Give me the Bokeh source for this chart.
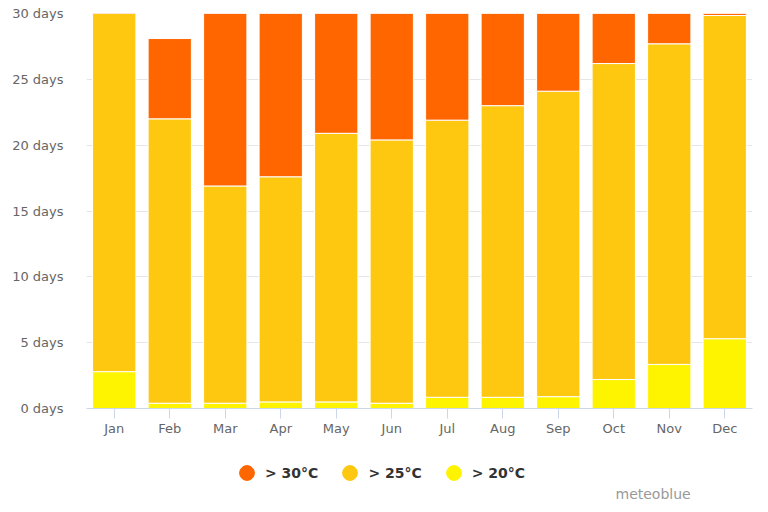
from bokeh.plotting import figure
from bokeh.layouts import column
from bokeh.models import ColumnDataSource, FactorRange, Legend, LegendItem, Label, CustomJSTickFormatter
from bokeh.embed import file_html
from bokeh.resources import INLINE

months = ["Jan", "Feb", "Mar", "Apr", "May", "Jun", "Jul", "Aug", "Sep", "Oct", "Nov", "Dec"]
days_over_20 = [2.8, 0.4, 0.4, 0.5, 0.5, 0.4, 0.85, 0.85, 0.9, 2.2, 3.35, 5.3]
days_over_25 = [28.2, 21.6, 16.5, 17.1, 20.4, 20.0, 21.05, 22.15, 23.2, 24.0, 24.35, 24.55]
days_over_30 = [0.0, 6.1, 14.1, 12.4, 10.1, 9.6, 9.1, 8.0, 5.9, 4.8, 2.3, 1.15]
series_names = ["> 30°C", "> 25°C", "> 20°C"]
colors = {"t30": "#ff6600", "t25": "#fdc80f", "t20": "#fff400"}
y_ticks = [0, 5, 10, 15, 20, 25, 30]

FONT = "DejaVu Sans"

source = ColumnDataSource(dict(month=months, t20=days_over_20, t25=days_over_25, t30=days_over_30))

p = figure(x_range=FactorRange(*months, range_padding=0), y_range=(0, 30),
           width=760, height=440, output_backend="svg", toolbar_location=None,
           min_border_left=86, min_border_right=8, min_border_top=13, min_border_bottom=32)
p.outline_line_color = None
p.background_fill_color = "white"
p.border_fill_color = "white"

p.vbar_stack(["t20", "t25", "t30"], x="month", width=0.78, source=source,
             color=[colors["t20"], colors["t25"], colors["t30"]],
             line_color="white", line_width=1)

# axes
p.yaxis.ticker = y_ticks
p.yaxis.formatter = CustomJSTickFormatter(code="return tick + ' days';")
p.yaxis.axis_line_color = None
p.yaxis.major_tick_line_color = None
p.yaxis.minor_tick_line_color = None
p.yaxis.major_label_standoff = 17
p.yaxis.major_label_text_font = FONT
p.yaxis.major_label_text_font_size = "13px"
p.yaxis.major_label_text_color = "#666666"

p.xaxis.axis_line_color = "#ccd6eb"
p.xaxis.major_tick_line_color = "#ccd6eb"
p.xaxis.major_tick_out = 10
p.xaxis.major_tick_in = 0
p.xaxis.major_label_standoff = 2
p.xaxis.major_label_text_font = FONT
p.xaxis.major_label_text_font_size = "13px"
p.xaxis.major_label_text_color = "#666666"

p.xgrid.grid_line_color = None
p.ygrid.grid_line_color = "#e6e6e6"
p.ygrid.ticker = y_ticks

# legend strip below the chart (its frame is aligned with the chart's frame: x 86..752)
lg = figure(width=760, height=64, x_range=(0, 1), y_range=(0, 1),
            output_backend="svg", toolbar_location=None,
            min_border_left=86, min_border_right=8, min_border_top=0, min_border_bottom=0)
lg.axis.visible = False
lg.grid.visible = False
lg.outline_line_color = None
lg.background_fill_color = "white"
lg.border_fill_color = "white"

dummy = ColumnDataSource(dict(x=[float("nan")], y=[float("nan")]))
legend_items = []
for name, key in zip(series_names, ["t30", "t25", "t20"]):
    r = lg.scatter(x="x", y="y", source=dummy, marker="circle", size=15,
                   fill_color=colors[key], line_color=colors[key])
    legend_items.append(LegendItem(label=name, renderers=[r]))

legend = Legend(items=legend_items, orientation="horizontal", location=(142, 13),
                glyph_width=37, glyph_height=37, label_standoff=-11, spacing=13,
                padding=0, margin=0, border_line_color=None, background_fill_alpha=0,
                label_text_font=FONT, label_text_font_size="14px", label_text_font_style="bold",
                label_text_color="#333333")
lg.add_layout(legend, "center")

credit = Label(x=529, y=11, x_units="screen", y_units="screen", text="meteoblue",
               text_font=FONT, text_font_size="14px", text_color="#999999",
               text_baseline="middle", text_align="left")
lg.add_layout(credit)

layout = column(p, lg, spacing=0)
open("out.html", "w").write(file_html(layout, INLINE))
